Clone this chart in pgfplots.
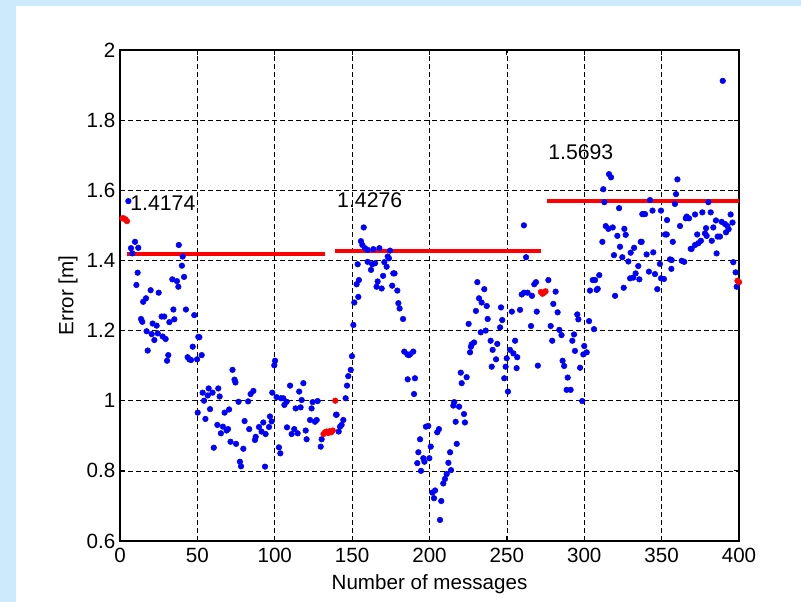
\documentclass[border=0pt]{standalone}
\usepackage{fontspec}
\setmainfont{Liberation Sans}
\usepackage{pgfplots}
\pgfplotsset{compat=1.18}
\definecolor{figbg}{RGB}{204,234,252}
\definecolor{mblue}{RGB}{0,0,255}
\definecolor{mred}{RGB}{255,0,0}

\pgfplotstableread{
n v
5.4 1.569
7.1 1.435
8 1.420
9.7 1.453
11.8 1.436
11.4 1.365
10.6 1.330
13.6 1.233
14.4 1.225
15 1.282
16.8 1.292
17.2 1.198
17.9 1.143
19.8 1.315
20.5 1.190
21.1 1.220
22.2 1.173
23.7 1.214
24.4 1.192
25 1.308
26.9 1.240
27.6 1.183
28.6 1.240
29.5 1.176
30.4 1.114
31.2 1.130
31.9 1.224
33.8 1.346
34.5 1.260
35.1 1.232
36.8 1.341
37.7 1.325
38 1.444
40 1.385
40.5 1.411
41.4 1.353
42.6 1.260
43.7 1.124
44.8 1.118
45.9 1.116
47 1.154
48 1.244
49.8 1.118
50.6 1.182
51.3 1.181
52.8 1.130
50.2 0.966
53.4 1.023
54.3 1.000
55.2 0.948
56.7 1.015
57.3 1.035
58.2 0.976
59.8 1.023
60.6 0.866
62.9 0.931
63.5 1.035
64.4 1.012
65.2 0.907
66.5 0.926
67.6 0.966
68.9 0.915
69.8 0.919
70.5 0.975
71.4 0.883
72.7 1.088
74 1.060
74.6 1.052
75 0.877
76.6 0.997
77.5 0.826
78.2 0.813
79.7 0.863
80.5 0.942
82.8 0.998
83.5 0.919
84.4 1.019
86.2 1.028
87.2 0.888
87.7 0.897
89.8 0.925
91.5 0.912
92.6 0.938
93.7 0.812
94.1 0.905
96.3 0.925
96.9 0.955
98 0.941
98.4 1.023
99.7 1.101
100.2 1.114
101.2 1.010
102.7 0.867
103.6 0.850
104 1.007
105.5 1.007
106.2 0.988
107.7 0.997
107.9 0.924
109.9 1.043
110.9 0.905
112.6 0.919
113.5 0.978
114.8 0.907
115.8 1.026
116.7 0.981
117.4 1.002
118.5 1.050
120 0.915
120.6 0.890
122.8 0.945
123.8 0.978
124.5 0.996
126 0.940
127.1 0.945
127.7 0.999
129.7 0.869
130.3 0.890
139.6 0.960
140 0.960
141.3 0.912
142.2 0.926
143.2 0.931
144.3 0.945
145.8 1.007
146.7 1.043
147.5 1.070
149.1 1.088
149.9 1.127
150.8 1.216
151.4 1.280
152.9 1.332
153.6 1.389
154 1.296
154.4 1.344
155.7 1.455
156.6 1.444
157.5 1.494
158.3 1.435
160 1.430
160 1.396
162.2 1.373
163 1.389
163.7 1.432
164.8 1.392
165.8 1.325
166.5 1.340
167.6 1.435
169.1 1.320
170 1.356
170.8 1.395
172.3 1.382
173 1.411
173.8 1.406
174.5 1.428
175.9 1.328
176.6 1.363
177.4 1.363
179.2 1.314
179.9 1.278
180.7 1.263
182.9 1.233
183.7 1.140
185.7 1.132
186.5 1.130
187.4 1.132
189.5 1.140
185.9 1.061
190.6 1.064
190 1.019
192.1 0.822
192.8 0.853
193.9 0.890
194.5 0.800
196 0.836
196.7 0.826
197.7 0.926
199.2 0.928
199.9 0.836
200.8 0.869
201.8 0.738
202.9 0.722
203.6 0.744
205 0.910
206.1 0.919
206.8 0.660
207.6 0.714
208.9 0.764
210 0.777
211.1 0.791
212.2 0.823
213.3 0.853
213.9 0.802
215.4 0.986
216 0.996
216.9 0.940
217.6 0.877
219.1 0.983
220.2 1.080
220.8 1.050
222.3 0.962
222.9 0.938
224 1.067
225.3 1.219
226.2 1.138
226.8 1.154
227.3 1.161
228.8 1.166
230 1.256
230.9 1.338
232 1.292
233.1 1.195
233.7 1.280
235.4 1.318
236.3 1.200
237 1.270
237.6 1.233
239.5 1.171
240.2 1.097
240.8 1.145
243 1.118
243.8 1.162
245.6 1.209
246.2 1.266
247 1.230
248.3 1.064
249.2 1.097
249.9 1.121
250.7 1.026
252 1.145
253.2 1.254
254.2 1.135
255.3 1.171
256.3 1.093
256.7 1.124
258.5 1.259
259.6 1.303
261 1.500
261.1 1.308
262.4 1.409
263.4 1.308
265.6 1.213
266.2 1.299
267.7 1.332
268.8 1.338
269.3 1.254
270 1.100
276.8 1.344
278.3 1.213
279.3 1.171
280 1.276
281.5 1.311
282.8 1.252
283.9 1.202
285.3 1.187
286 1.114
287 1.099
288.6 1.031
289.3 1.066
291.2 1.031
292.3 1.171
293.4 1.189
294 1.142
295.5 1.246
296.2 1.232
297.3 1.094
298.7 0.999
299.4 1.132
300 1.156
301.6 1.138
303.1 1.227
303.7 1.314
305.5 1.344
306.3 1.204
307 1.344
308 1.316
308.7 1.319
309.7 1.358
311.7 1.453
312.3 1.603
313 1.566
313.9 1.498
315.6 1.490
316 1.646
317.3 1.637
318.4 1.494
319.2 1.415
319.9 1.299
321.4 1.470
322.5 1.549
323.1 1.439
324.6 1.409
325.5 1.322
325.9 1.490
326.8 1.473
328.5 1.397
329.6 1.349
330 1.422
331.7 1.351
332.2 1.436
333.2 1.363
334.9 1.384
335.6 1.346
336.5 1.453
337.1 1.453
337.5 1.532
338.2 1.532
339.3 1.532
340.3 1.417
341.8 1.368
342.5 1.572
344.1 1.542
344.6 1.423
345.7 1.361
347.2 1.318
348.9 1.390
349.6 1.542
349.6 1.349
351.5 1.347
352.2 1.474
353.3 1.474
353.5 1.515
355.4 1.403
356.3 1.376
356.5 1.401
357.2 1.453
358.6 1.561
359.3 1.589
360.2 1.631
361.9 1.498
363 1.399
364.6 1.396
365.6 1.520
366.2 1.525
367.7 1.520
368.8 1.433
369.4 1.433
371.6 1.531
371.6 1.444
373 1.474
373.7 1.449
375.4 1.456
376.3 1.537
378 1.477
378.7 1.492
379.1 1.470
380.2 1.566
381.7 1.537
382.4 1.456
383.4 1.494
385.1 1.514
385.5 1.420
386.2 1.468
387.7 1.468
388.8 1.510
389.5 1.912
390.9 1.504
391.6 1.480
392.5 1.498
393.3 1.489
394.6 1.531
395.8 1.508
396.3 1.395
397.8 1.366
398.5 1.325
}\bluepts

\pgfplotstableread{
n v
1.5 1.520
2.5 1.520
3.5 1.517
4.5 1.512
131.5 0.905
132.5 0.910
133.5 0.912
134.5 0.908
135.5 0.913
136.5 0.910
137.5 0.915
139.1 1.000
272 1.310
273 1.305
274 1.308
275 1.312
399 1.342
400 1.338
}\redpts

\begin{document}
\begin{tikzpicture}[x=1bp,y=1bp]
% figure background (px * 0.75 bp, axis box at origin)
\fill[figbg] (-90,-45.75) rectangle (510.75,405.75);
\fill[white] (-78,-45.75) rectangle (510.75,401.25);
\begin{axis}[
  at={(0,0)}, anchor=south west,
  scale only axis, width=464.25bp, height=368.25bp,
  xmin=0, xmax=400, ymin=0.6, ymax=2,
  xtick={0,50,...,400},
  ytick={0.6,0.8,1,1.2,1.4,1.6,1.8,2},
  grid=major,
  major grid style={black, line width=0.5bp, dash pattern=on 3.5bp off 2.5bp},
  axis line style={black, line width=0.8bp},
  tick style={black, line width=0.6bp},
  major tick length=4bp,
  tick align=inside,
  /pgf/number format/assume math mode=true,
  ticklabel style={font=\fontsize{15.5}{18}\selectfont},
  xticklabel style={yshift=-2bp},
  label style={font=\fontsize{15.5}{18}\selectfont},
  xlabel={Number of messages},
  ylabel={Error [m]},
  xlabel style={yshift=-2bp},
  clip=false,
]
\addplot[only marks, mark=*, mark size=2.1bp, color=mblue, mark options={draw=mblue, fill=mblue}] table[x=n, y=v] {\bluepts};
\addplot[only marks, mark=*, mark size=2.1bp, color=mred, mark options={draw=mred, fill=mred}] table[x=n, y=v] {\redpts};
\addplot[mred, line width=3bp] coordinates {(4.5,1.4174) (132.5,1.4174)};
\addplot[mred, line width=3bp] coordinates {(139,1.4276) (272,1.4276)};
\addplot[mred, line width=3bp] coordinates {(276,1.5693) (400,1.5693)};
\node[anchor=west, inner sep=0pt, font=\fontsize{16}{19}\selectfont] at (axis cs:6.5,1.564) {1.4174};
\node[anchor=west, inner sep=0pt, font=\fontsize{16}{19}\selectfont] at (axis cs:140.2,1.572) {1.4276};
\node[anchor=west, inner sep=0pt, font=\fontsize{16}{19}\selectfont] at (axis cs:276.6,1.709) {1.5693};
\end{axis}
\end{tikzpicture}
\end{document}
